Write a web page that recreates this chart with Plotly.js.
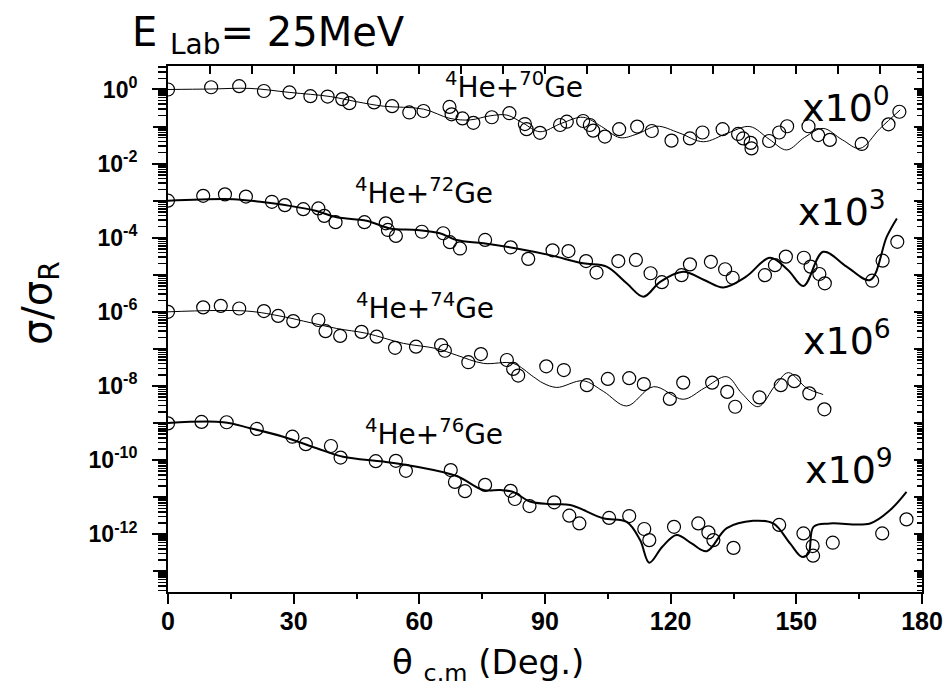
<!DOCTYPE html>
<html><head><meta charset="utf-8">
<script src="https://cdn.plot.ly/plotly-3.0.1.min.js"></script>
<style>html,body{margin:0;padding:0;background:#fff}#chart{width:949px;height:688px}</style>
</head><body><div id="chart"></div>
<script>
// ---- data (sigma/sigma_R, unscaled) ----
const scaleFactors = [1, 1e-3, 1e-6, 1e-9];
const scaleExponents = [0, 3, 6, 9];
const massNumbers = [70, 72, 74, 76];

const ge70ExpAngle = [0, 10.3, 17, 22.9, 29, 34, 38.1, 41.6, 43.3, 49.2, 53.5, 57.6, 61, 67.2, 67.7, 70.3, 72.9, 77.3, 81.5, 85.2, 85.6, 88.8, 93.6, 95.2, 99.1, 100.7, 101.5, 104.3, 107.7, 112, 115.5, 120.2, 124.6, 127.6, 132.4, 136.1, 137.3, 139.1, 139.3, 143.5, 145.9, 147.8, 152.9, 155.2, 158, 165.6, 172, 174.6];
const ge70ExpRatio = [1.0, 1.15, 1.23, 0.912, 0.832, 0.661, 0.646, 0.550, 0.427, 0.447, 0.355, 0.240, 0.263, 0.339, 0.214, 0.166, 0.126, 0.178, 0.229, 0.117, 0.0851, 0.0676, 0.110, 0.135, 0.141, 0.110, 0.0776, 0.0537, 0.0851, 0.100, 0.0759, 0.0417, 0.0479, 0.0692, 0.0851, 0.0631, 0.0479, 0.0363, 0.0257, 0.0407, 0.0692, 0.102, 0.102, 0.0589, 0.0437, 0.0339, 0.115, 0.251];
const ge70CalcAngle = [0, 10, 19.6, 29.1, 38.7, 45, 51.4, 61, 67.3, 72.1, 76.9, 80.9, 84.8, 88.8, 94, 99.1, 103.5, 107.9, 112, 116.7, 122, 127.8, 133.5, 138.9, 143.5, 147.7, 152, 156.4, 161, 165.2, 170, 174.8];
const ge70CalcRatio = [1.0, 1.03, 1.07, 0.832, 0.646, 0.468, 0.355, 0.295, 0.166, 0.151, 0.195, 0.204, 0.123, 0.0724, 0.123, 0.178, 0.100, 0.0501, 0.063, 0.102, 0.0676, 0.0389, 0.066, 0.100, 0.0457, 0.0234, 0.0513, 0.0891, 0.0437, 0.0257, 0.0891, 0.282];

const ge72ExpAngle = [0, 8.4, 13.6, 18.6, 24.8, 27.9, 32.3, 35.9, 37.3, 40.0, 46.9, 52, 52.5, 54.4, 60.6, 65.7, 67.3, 69.7, 75.7, 81.8, 86.0, 91.8, 95.6, 99.8, 102.3, 107.5, 111.7, 115.2, 117.9, 122.6, 124.6, 129.6, 133, 134.8, 142.5, 144.9, 147.5, 151.8, 153.4, 155.5, 156.8, 168.1, 170.6, 174.1];
const ge72ExpRatio = [1.0, 1.35, 1.48, 1.29, 0.933, 0.759, 0.589, 0.617, 0.389, 0.263, 0.263, 0.245, 0.162, 0.112, 0.145, 0.132, 0.0759, 0.0513, 0.0871, 0.0550, 0.0269, 0.0457, 0.0437, 0.0234, 0.0115, 0.0234, 0.0251, 0.0110, 0.00631, 0.00977, 0.0191, 0.0224, 0.0141, 0.00832, 0.00977, 0.0182, 0.0309, 0.0288, 0.0166, 0.0105, 0.00589, 0.00692, 0.0240, 0.0776];
const ge72CalcAngle = [0, 15.6, 22, 29.1, 35.5, 40.3, 47.4, 53, 59.4, 64.9, 68.9, 75.3, 83.2, 91.2, 99.1, 104.7, 109.5, 113.5, 117.5, 123, 128, 132.6, 138, 143.7, 148, 151.7, 156.4, 162, 167.6, 171.6, 174];
const ge72CalcRatio = [1.0, 1.10, 0.933, 0.724, 0.525, 0.355, 0.288, 0.178, 0.162, 0.132, 0.0871, 0.0708, 0.0513, 0.0339, 0.0204, 0.0166, 0.00589, 0.00257, 0.00646, 0.0120, 0.00724, 0.00457, 0.00891, 0.0288, 0.0135, 0.00501, 0.0417, 0.0166, 0.00724, 0.107, 0.331];

const ge74ExpAngle = [0, 8.4, 12.6, 17, 22.9, 26.3, 29.9, 35.9, 37.6, 41.1, 46.2, 49.8, 54.2, 59.2, 65.2, 66.1, 71.7, 74.7, 80.9, 82.4, 83.6, 90.3, 94.5, 100, 105, 110.1, 113.6, 119.8, 123, 129.9, 133.5, 135.4, 141.2, 146.3, 149.5, 153.1, 156.7];
const ge74ExpRatio = [1.0, 1.32, 1.45, 1.23, 1.05, 0.776, 0.562, 0.603, 0.302, 0.224, 0.288, 0.214, 0.107, 0.115, 0.126, 0.0891, 0.0437, 0.0724, 0.0501, 0.0288, 0.0191, 0.0339, 0.0269, 0.0105, 0.0155, 0.0162, 0.0112, 0.00447, 0.0123, 0.0123, 0.00692, 0.00275, 0.00490, 0.0105, 0.0135, 0.00631, 0.00234];
const ge74CalcAngle = [0, 18.8, 27.5, 33.9, 40.3, 47.4, 56.2, 64.1, 68.9, 75.3, 82.4, 87.2, 89.5, 92.8, 99.1, 104, 109.5, 115.9, 123, 128, 133.4, 137, 140.9, 145, 148.1, 152.5, 156.4];
const ge74CalcRatio = [1.0, 1.05, 0.741, 0.513, 0.355, 0.263, 0.141, 0.102, 0.0676, 0.0407, 0.0407, 0.0178, 0.0120, 0.00912, 0.0138, 0.00708, 0.00288, 0.00955, 0.00437, 0.00871, 0.0178, 0.00631, 0.00275, 0.0105, 0.0229, 0.00871, 0.00589];

const ge76ExpAngle = [0, 8, 14, 21.2, 29.7, 32.9, 38.9, 41.2, 49.6, 54.4, 56.8, 67.5, 68.5, 70.9, 75.7, 81.8, 82.8, 86.3, 92.2, 95.8, 98.2, 105.3, 110.1, 113.7, 114.9, 120.8, 126.6, 129, 130.2, 135, 145.9, 151.7, 153.9, 154.0, 158.7, 170.5, 176.3];
const ge76ExpRatio = [0.977, 1.07, 1.05, 0.692, 0.427, 0.269, 0.240, 0.117, 0.0933, 0.0955, 0.0513, 0.0537, 0.0257, 0.0145, 0.0214, 0.0148, 0.00891, 0.00575, 0.00724, 0.00316, 0.00195, 0.00275, 0.00309, 0.00138, 0.000692, 0.00158, 0.00195, 0.00112, 0.000692, 0.000427, 0.00178, 0.00105, 0.000479, 0.000263, 0.000589, 0.00105, 0.00251];
const ge76CalcAngle = [0, 13.2, 19.6, 27.5, 35.5, 41.8, 51.4, 59.4, 68.9, 75.3, 79.3, 82.4, 86.4, 91.2, 96, 103.9, 109.5, 112.7, 114.9, 118, 121.4, 125, 128.6, 133.4, 139.7, 144.5, 148.5, 151.3, 152.9, 154.1, 158, 167.6, 172.4, 176.3];
const ge76CalcRatio = [1.0, 1.05, 0.724, 0.427, 0.209, 0.123, 0.0912, 0.0661, 0.0372, 0.0155, 0.0155, 0.0138, 0.00759, 0.00646, 0.00617, 0.00269, 0.00214, 0.000692, 0.000170, 0.000457, 0.000955, 0.000562, 0.000347, 0.00145, 0.00229, 0.00195, 0.000562, 0.000245, 0.000302, 0.00158, 0.00195, 0.00195, 0.00447, 0.0138];

const xTickVals = [0, 30, 60, 90, 120, 150, 180];
const xMinorVals = [15, 45, 75, 105, 135, 165];
const yLabelExponents = [0, -2, -4, -6, -8, -10, -12];
const yUnlabelledExponents = [-1, -3, -5, -7, -9, -11, -13];

// ---- build ----
const expAngles = [ge70ExpAngle, ge72ExpAngle, ge74ExpAngle, ge76ExpAngle];
const expRatios = [ge70ExpRatio, ge72ExpRatio, ge74ExpRatio, ge76ExpRatio];
const calcAngles = [ge70CalcAngle, ge72CalcAngle, ge74CalcAngle, ge76CalcAngle];
const calcRatios = [ge70CalcRatio, ge72CalcRatio, ge74CalcRatio, ge76CalcRatio];
const lineWidths = [1, 2, 1, 2];

const traces = [];
for (let i = 0; i < 4; i++) {
  traces.push({
    x: calcAngles[i], y: calcRatios[i].map(v => v * scaleFactors[i]),
    mode: 'lines', type: 'scatter', line: {color: '#000', width: lineWidths[i], shape: 'spline', smoothing: 1},
    name: 'OM ' + massNumbers[i] + 'Ge'
  });
  traces.push({
    x: expAngles[i], y: expRatios[i].map(v => v * scaleFactors[i]),
    mode: 'markers', type: 'scatter',
    marker: {symbol: 'circle-open', size: 13, color: '#000', line: {width: 1.2, color: '#000'}},
    name: 'Exp ' + massNumbers[i] + 'Ge'
  });
}
// empty traces to register mirror / extra tick axes
traces.push({x: [], y: [], xaxis: 'x2', yaxis: 'y2', mode: 'markers', showlegend: false, hoverinfo: 'skip'});
traces.push({x: [], y: [], xaxis: 'x', yaxis: 'y3', mode: 'markers', showlegend: false, hoverinfo: 'skip'});

const decade = e => Math.pow(10, e);
const yTickVals = yLabelExponents.map(decade);
const yTickText = yLabelExponents.map(e => '10<sup>' + e + '</sup>');
const yOddVals = yUnlabelledExponents.map(decade);
const yAllDecades = yLabelExponents.concat(yUnlabelledExponents).map(decade);
const yMinorVals = [];
for (let e = -14; e <= 0; e++) for (let k = 2; k <= 9; k++) yMinorVals.push(k * decade(e));

const L = 168, R = 922, T = 66, B = 592;
const xp = px => (px - L) / (R - L);
const yp = py => (B - py) / (B - T);

const yRange = [-13.56, 0.634];
const tickFont = {family: 'Liberation Sans, Arial, sans-serif', size: 25, weight: 'bold', color: '#000'};
const annFont = {family: 'DejaVu Sans, Liberation Sans, sans-serif', color: '#000'};

const annotations = [];
const labelPos = [[443, 85], [353, 191], [354, 306], [363, 432]];
const factorPos = [[892, 105], [888, 209], [893, 338], [895, 467]];
for (let i = 0; i < 4; i++) {
  annotations.push({xref: 'paper', yref: 'paper', x: xp(labelPos[i][0]), y: yp(labelPos[i][1]), xanchor: 'left', yanchor: 'middle',
    text: '<sup>4</sup>He+<sup>' + massNumbers[i] + '</sup>Ge', showarrow: false, font: Object.assign({size: 28}, annFont)});
  annotations.push({xref: 'paper', yref: 'paper', x: xp(factorPos[i][0]), y: yp(factorPos[i][1]), xanchor: 'right', yanchor: 'middle',
    text: 'x10<sup>' + scaleExponents[i] + '</sup>', showarrow: false, font: Object.assign({size: 38}, annFont)});
}
annotations.push({xref: 'paper', yref: 'paper', x: xp(390), y: yp(664), xanchor: 'left', yanchor: 'middle',
  text: 'θ <sub>c.m</sub> (Deg.)', showarrow: false, font: Object.assign({size: 34}, annFont)});
annotations.push({xref: 'paper', yref: 'paper', x: xp(40), y: yp(303), xanchor: 'center', yanchor: 'middle', textangle: -90,
  text: 'σ/σ<sub>R</sub>', showarrow: false, font: Object.assign({size: 40}, annFont)});

const axisLine = {showline: true, linewidth: 2, linecolor: '#000', showgrid: false, zeroline: false};
const layout = {
  width: 949, height: 688,
  margin: {l: L, r: 949 - R, t: T, b: 688 - B, pad: 0},
  paper_bgcolor: '#fff', plot_bgcolor: '#fff',
  showlegend: false,
  title: {text: 'E <sub>Lab</sub>= 25MeV', font: Object.assign({size: 40}, annFont),
    xref: 'container', x: 132 / 949, xanchor: 'left', yref: 'container', y: 1 - 32 / 688, yanchor: 'middle'},
  xaxis: Object.assign({range: [0, 180], tickmode: 'array', tickvals: xTickVals, ticks: 'outside', ticklen: 10, tickwidth: 2, tickcolor: '#000',
    minor: {tickmode: 'array', tickvals: xMinorVals, ticks: 'outside', ticklen: 5, tickwidth: 2, tickcolor: '#000'},
    tickfont: tickFont, ticklabelstandoff: -4}, axisLine),
  yaxis: Object.assign({type: 'log', range: yRange, tickmode: 'array', tickvals: yTickVals, ticktext: yTickText,
    ticks: 'outside', ticklen: 14, tickwidth: 2, tickcolor: '#000',
    minor: {tickmode: 'array', tickvals: yMinorVals, ticks: 'outside', ticklen: 8, tickwidth: 1.5, tickcolor: '#000'},
    tickfont: Object.assign({}, tickFont, {size: 23}), ticklabelstandoff: 10}, axisLine),
  yaxis3: {overlaying: 'y', anchor: 'x', side: 'left', type: 'log', range: yRange, tickmode: 'array', tickvals: yOddVals,
    ticks: 'outside', ticklen: 14, tickwidth: 2, tickcolor: '#000', showticklabels: false,
    showline: false, showgrid: false, zeroline: false},
  xaxis2: Object.assign({overlaying: 'x', anchor: 'y', side: 'top', range: [0, 180], tickmode: 'linear', tick0: 0, dtick: 10,
    ticks: 'inside', ticklen: 8, tickwidth: 2, tickcolor: '#000', showticklabels: false}, axisLine),
  yaxis2: Object.assign({overlaying: 'y', anchor: 'x', side: 'right', type: 'log', range: yRange, tickmode: 'array', tickvals: yAllDecades,
    ticks: 'inside', ticklen: 8, tickwidth: 2, tickcolor: '#000', showticklabels: false,
    minor: {tickmode: 'array', tickvals: yMinorVals, ticks: 'inside', ticklen: 5, tickwidth: 1.5, tickcolor: '#000'}}, axisLine),
  annotations: annotations
};

Plotly.newPlot('chart', traces, layout, {displayModeBar: false, staticPlot: true});
</script></body></html>
